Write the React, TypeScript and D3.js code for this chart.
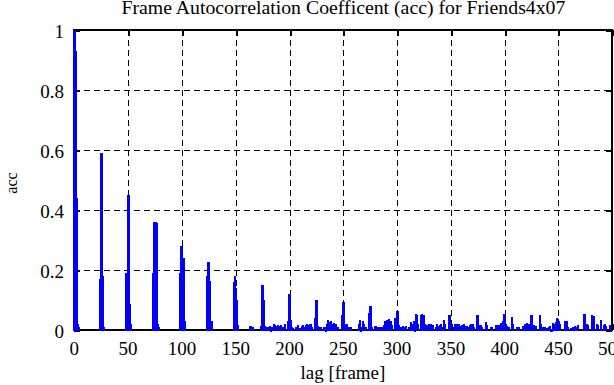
import React from "react";
import * as d3 from "d3";

// ---- data (lag in frames, autocorrelation coefficient) ----
const lagsA = [0, 1, 2, 3, 4, 23, 24, 25, 26, 27, 48, 49, 50, 51, 52, 73, 74, 75, 76, 77, 78, 98, 99, 100, 101, 102, 123, 124, 125, 126, 127, 148, 149, 150, 151, 152];
const accA = [1.0, 0.93, 0.44, 0.02, 0.01, 0.17, 0.59, 0.59, 0.18, 0.01, 0.19, 0.45, 0.45, 0.085, 0.02, 0.19, 0.36, 0.36, 0.355, 0.02, 0.01, 0.19, 0.28, 0.28, 0.24, 0.03, 0.178, 0.224, 0.224, 0.163, 0.03, 0.16, 0.18, 0.14, 0.1, 0.015];

const lagsB = [163, 164, 165, 166, 173, 174, 175, 176, 177, 178, 180, 181, 182, 183, 185, 186, 187, 188, 189, 190, 191, 192, 193, 195, 198, 199, 200, 201, 202, 203, 206, 207, 209, 211, 212, 213, 215, 216, 217, 218, 219, 220, 223, 224, 225, 226, 227, 229, 232, 233, 234, 235, 236, 237, 238, 239, 240, 241, 242, 243, 245, 248, 249, 250, 251, 252, 253, 255, 257];
const accB = [0.012, 0.013, 0.01, 0.008, 0.013, 0.148, 0.148, 0.097, 0.013, 0.01, 0.008, 0.012, -0.005, 0.01, 0.02, 0.015, 0.01, 0.012, 0.015, 0.01, 0.012, 0.014, 0.01, 0.02, 0.028, 0.117, 0.117, 0.033, 0.01, 0.005, 0.01, 0.015, 0.005, 0.012, 0.015, 0.01, 0.015, 0.02, 0.012, 0.015, 0.02, 0.01, 0.039, 0.1, 0.1, 0.012, 0.008, 0.01, 0.01, -0.004, 0.02, 0.031, 0.025, 0.02, 0.028, 0.015, 0.018, 0.023, 0.012, 0.02, 0.01, 0.05, 0.091, 0.091, 0.017, 0.012, 0.017, 0.008, 0.01];

const lagsC = [264, 265, 266, 267, 268, 269, 271, 273, 274, 275, 276, 279, 280, 281, 283, 285, 287, 288, 289, 290, 291, 292, 293, 294, 295, 298, 299, 300, 301, 303, 304, 305, 306, 308, 311, 312, 313, 315, 316, 317, 318, 319, 322, 323, 324, 325, 326, 328, 329, 330, 331, 332, 333, 336, 337, 338, 339, 340, 341, 343, 344, 348, 349, 350, 352, 353, 354, 355, 356, 357, 358, 360, 361, 362, 363, 364, 366, 367, 368, 369, 370, 371];
const accC = [0.02, 0.033, -0.004, 0.01, 0.03, 0.02, 0.01, 0.055, 0.078, 0.078, 0.01, 0.013, 0.013, 0.01, 0.01, 0.008, 0.015, 0.028, 0.028, 0.033, 0.02, 0.035, 0.02, 0.03, 0.015, 0.04, 0.061, 0.061, 0.015, 0.01, 0.008, 0.012, 0.01, 0.013, 0.01, 0.024, 0.02, 0.03, -0.004, 0.053, 0.05, 0.02, 0.05, 0.052, 0.05, 0.02, 0.015, 0.015, 0.02, 0.012, 0.02, 0.01, 0.015, 0.01, 0.02, 0.012, 0.015, 0.02, 0.01, 0.033, 0.02, 0.05, 0.05, 0.02, 0.01, 0.02, 0.015, 0.02, 0.01, 0.018, 0.012, 0.015, 0.01, 0.02, 0.01, 0.012, 0.01, 0.015, 0.018, 0.012, 0.017, 0.01];

const lagsD = [374, 375, 377, 378, 382, 383, 387, 388, 391, 392, 393, 394, 395, 396, 397, 398, 399, 400, 401, 402, 403, 406, 407, 411, 413, 417, 418, 419, 420, 421, 422, 423, 424, 425, 427, 428, 429, 432, 433, 435, 437, 439, 441, 442, 443, 444, 445, 446, 447, 448, 449, 450, 451, 456, 457, 458, 461, 463, 465, 466, 467, 468, 473, 474, 476, 477, 481, 482, 485, 486, 489, 492, 493, 494, 497, 498, 499];
const accD = [0.05, 0.05, 0.015, 0.01, 0.024, 0.015, 0.008, 0.008, 0.015, 0.012, 0.015, 0.01, 0.015, 0.022, 0.015, 0.03, 0.053, 0.053, 0.015, 0.012, 0.01, 0.042, 0.02, 0.008, 0.008, 0.012, 0.017, 0.015, 0.022, 0.02, 0.017, 0.02, 0.047, 0.047, 0.015, 0.01, 0.012, 0.047, 0.02, 0.008, 0.01, 0.006, 0.01, 0.012, -0.005, 0.022, 0.015, 0.02, 0.025, 0.039, 0.035, 0.03, 0.02, 0.03, 0.03, 0.01, 0.006, 0.01, 0.012, 0.008, 0.01, 0.015, 0.053, 0.053, 0.02, 0.015, 0.05, 0.045, 0.02, 0.015, 0.033, 0.015, 0.018, 0.012, 0.015, 0.01, 0.022];

const xTicks = [0, 50, 100, 150, 200, 250, 300, 350, 400, 450, 500];
const yTicks = [0, 0.2, 0.4, 0.6, 0.8, 1];
const yTickLabels = ["0", "0.2", "0.4", "0.6", "0.8", "1"];

const titleText = "Frame Autocorrelation Coefficent (acc) for Friends4x07";
const xLabelText = "lag [frame]";
const yLabelText = "acc";

const W = 614;
const H = 385;
const L = 74.3;
const R = 611.5;
const T = 30;
const B = 330;
const FONT = "'Liberation Serif', 'Times New Roman', serif";

export default function App() {
  const x = d3.scaleLinear().domain([0, 500]).range([L, L + 538]);
  const y = d3.scaleLinear().domain([0, 1]).range([B, T]);

  const lags = [...lagsA, ...lagsB, ...lagsC, ...lagsD];
  const acc = [...accA, ...accB, ...accC, ...accD];
  const bars = lags.map((l, i) => ({ lag: l, v: acc[i] }));

  return (
    <svg
      width={W}
      height={H}
      style={{ position: "absolute", left: 0, top: 0, background: "#fff" }}
      fontFamily={FONT}
    >
      <defs>
        <clipPath id="plotclip">
          <rect x={L - 1.5} y={T - 1} width={R - L + 1.5} height={B - T + 6} />
        </clipPath>
      </defs>
      <rect x={0} y={0} width={W} height={H} fill="#fff" />
      {/* grid */}
      <g stroke="#000" strokeWidth={1} strokeDasharray="6,4" shapeRendering="crispEdges">
        {xTicks.slice(1, -1).map((t) => (
          <line key={"gx" + t} x1={Math.round(x(t)) + 0.5} x2={Math.round(x(t)) + 0.5} y1={T} y2={B} />
        ))}
        {yTicks.slice(1, -1).map((t) => (
          <line key={"gy" + t} x1={L} x2={R} y1={Math.round(y(t)) + 0.5} y2={Math.round(y(t)) + 0.5} />
        ))}
      </g>
      {/* frame */}
      <g stroke="#000" strokeWidth={2} fill="none" shapeRendering="crispEdges">
        <line x1={L - 1} x2={R + 1} y1={T} y2={T} />
        <line x1={L - 1} x2={R + 1} y1={B} y2={B} />
        <line x1={R} x2={R} y1={T} y2={B} />
        <line x1={L} x2={L} y1={T} y2={B} />
      </g>
      {/* ticks */}
      <g stroke="#000" strokeWidth={2} shapeRendering="crispEdges">
        {xTicks.map((t) => (
          <g key={"tx" + t}>
            <line x1={Math.round(x(t)) + 0.5} x2={Math.round(x(t)) + 0.5} y1={T} y2={T + 6} />
            <line x1={Math.round(x(t)) + 0.5} x2={Math.round(x(t)) + 0.5} y1={B} y2={B - 6} />
          </g>
        ))}
        {yTicks.map((t) => (
          <g key={"ty" + t}>
            <line x1={L} x2={L + 6} y1={Math.round(y(t)) + 0.5} y2={Math.round(y(t)) + 0.5} />
            <line x1={R} x2={R - 6} y1={Math.round(y(t)) + 0.5} y2={Math.round(y(t)) + 0.5} />
          </g>
        ))}
      </g>
      {/* bars (blue faces with blue edges, drawn over the frame) */}
      <g
        clipPath="url(#plotclip)"
        fill="#0000ff"
        stroke="#0000ff"
        strokeWidth={1}
        shapeRendering="crispEdges"
      >
        {bars.map((b) => {
          const x0 = b.lag === 0 ? x(0) - 1 : x(b.lag);
          const x1 = x(b.lag + 1);
          const yv = y(b.v);
          const y0 = y(0);
          return (
            <rect
              key={"b" + b.lag}
              x={x0}
              width={x1 - x0}
              y={Math.min(yv, y0)}
              height={Math.abs(y0 - yv)}
            />
          );
        })}
      </g>
      {/* tick labels */}
      <g fontSize={19} fill="#000">
        {yTicks.map((t, i) => (
          <text key={"ly" + t} x={64} y={y(t) + 7.5} textAnchor="end">
            {yTickLabels[i]}
          </text>
        ))}
        {xTicks.map((t) => (
          <text key={"lx" + t} x={x(t)} y={354.5} textAnchor="middle">
            {String(t)}
          </text>
        ))}
      </g>
      <text x={(L + R) / 2 + 0.5} y={14} fontSize={19.8} textAnchor="middle" fill="#000">
        {titleText}
      </text>
      <text x={(L + R) / 2} y={378.5} fontSize={19} textAnchor="middle" fill="#000">
        {xLabelText}
      </text>
      <text
        transform={`translate(${16.5},${183}) rotate(-90)`}
        fontSize={16}
        textAnchor="middle"
        fill="#000"
      >
        {yLabelText}
      </text>
    </svg>
  );
}
